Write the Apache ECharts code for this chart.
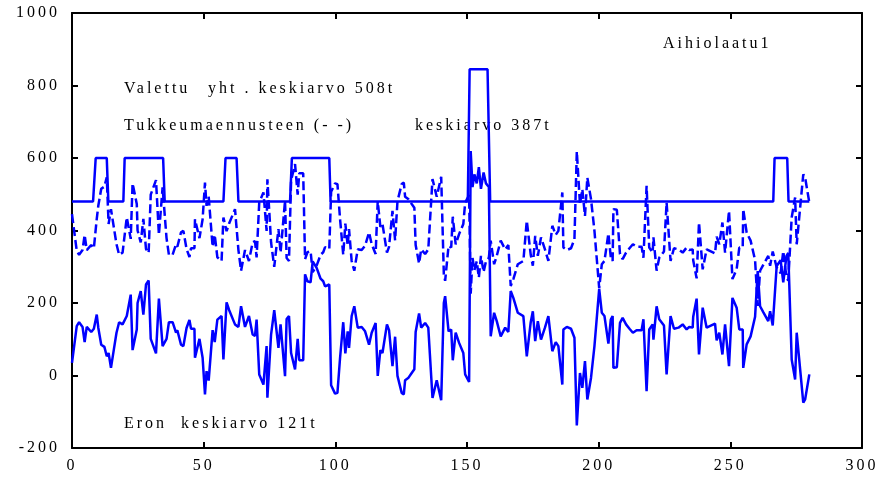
<!DOCTYPE html>
<html>
<head>
<meta charset="utf-8">
<script src="https://cdn.jsdelivr.net/npm/echarts@6/dist/echarts.min.js"></script>
<style>
    html, body { margin: 0; padding: 0; background: #fff; }
    #chart { width: 879px; height: 480px; }
</style>
</head>
<body>
<div id="chart"></div>
<script>
// spaced-out lettering like the original plot
var fillText0 = CanvasRenderingContext2D.prototype.fillText;
CanvasRenderingContext2D.prototype.fillText = function () {
    this.letterSpacing = '3px';
    return fillText0.apply(this, arguments);
};

var xTicks = [0, 50, 100, 150, 200, 250, 300];
var yTicks = [-200, 0, 200, 400, 600, 800, 1000];

// valettu (cast) - step line
var valettuX = [0, 8, 9, 13.2, 13.8, 19.5, 20, 34.6, 35.2, 57.5, 58.3, 62.5, 63.2, 82.8, 83.5, 97.7, 98.2,
    150.3, 151, 157.8, 158.8, 266.3, 266.8, 271.6, 272.1, 280];
var valettuY = [480, 480, 600, 600, 480, 480, 600, 600, 480, 480, 600, 600, 480, 480, 600, 600, 480,
    480, 845, 845, 480, 480, 600, 600, 480, 480];

// x positions shared by the difference and the prediction lines
var eroX = [0, 1.8, 2.7, 4.0, 4.8, 5.6, 7.3, 8.3, 9.4, 10.0,
    11.1, 12.3, 13.2, 13.9, 14.8, 15.9, 16.9, 17.9, 19.2, 20.8,
    22.3, 23.0, 24.6, 24.9, 26.1, 27.1, 28.1, 29.1, 29.9, 31.9,
    32.4, 33.0, 34.4, 35.9, 36.8, 38.2, 39.5, 40.0, 41.4, 42.3,
    43.5, 44.6, 45.2, 46.5, 46.7, 48.4, 49.6, 50.5, 51.1, 51.9,
    53.4, 54.2, 55.2, 56.8, 57.5, 58.7, 59.7, 61.9, 63.2, 64.2,
    65.7, 67.2, 68.6, 69.5, 70.1, 71.1, 72.7, 73.9, 74.2, 75.6,
    76.8, 78.4, 79.2, 80.9, 81.5, 82.4, 83.2, 84.7, 85.7, 86.3,
    87.8, 88.5, 89.4, 90.6, 91.4, 92.9, 94.4, 95.4, 96.1, 97.7,
    98.4, 99.9, 100.8, 101.8, 103.0, 103.8, 104.7, 105.2, 106.2, 107.2,
    108.5, 110.0, 111.3, 112.8, 113.8, 115.3, 116.1, 117.1, 117.9, 119.6,
    120.4, 121.7, 122.7, 123.6, 125.2, 126.0, 126.5, 127.8, 129.0, 130.0,
    130.5, 131.8, 132.6, 134.1, 135.3, 136.9, 138.5, 140.2, 141.2, 141.7,
    143.0, 144.0, 144.6, 145.7, 147.0, 148.6, 149.3, 150.8, 151.4, 152.1,
    152.8, 153.7, 154.5, 155.3, 156.3, 157.2, 158.3, 159.0, 160.3, 161.3,
    162.8, 164.5, 165.7, 166.6, 167.6, 169.3, 171.4, 172.7, 174.2, 175.0,
    175.9, 176.9, 178.1, 179.6, 180.9, 182.4, 183.7, 184.7, 186.2, 186.6,
    187.9, 189.5, 190.8, 191.7, 192.9, 193.8, 194.8, 195.7, 197.1, 198.4,
    200.2, 201.2, 202.2, 203.7, 204.6, 205.3, 205.6, 206.9, 208.1, 209.1,
    210.4, 211.7, 213.0, 214.4, 216.3, 217.0, 218.2, 219.2, 220.5, 220.8,
    222.0, 223.0, 224.8, 225.8, 227.3, 228.6, 230.3, 231.9, 233.4, 234.4,
    235.7, 235.9, 237.2, 238.1, 239.5, 241.0, 244.2, 244.8, 245.8, 247.0,
    248.0, 249.5, 250.8, 252.4, 253.4, 254.7, 254.9, 256.2, 257.7, 259.4,
    260.4, 261.3, 262.5, 264.4, 265.1, 266.1, 267.6, 269.1, 270.1, 271.3,
    272.0, 273.3, 274.6, 275.2, 277.7, 278.4, 280.0];

// ero (difference)
var eroY = [35, 136, 147, 134, 92, 134, 120, 129, 168, 131,
    85, 79, 53, 62, 21, 72, 118, 147, 141, 164,
    223, 70, 127, 200, 233, 168, 251, 262, 101, 61,
    58, 212, 81, 101, 147, 147, 118, 125, 85, 81,
    131, 153, 129, 129, 49, 101, 49, -52, 12, -14,
    125, 92, 154, 164, 44, 202, 180, 141, 134, 191,
    134, 164, 113, 109, 154, 3, -25, 81, -61, 113,
    180, 76, 141, -2, 156, 164, 62, 17, 101, 42,
    42, 279, 260, 257, 315, 297, 267, 260, 246, 251,
    -27, -50, -48, 49, 147, 61, 122, 76, 164, 191,
    132, 134, 122, 85, 118, 145, -1, 70, 62, 141,
    125, 26, 107, -1, -48, -52, -13, -6, 7, 17,
    120, 171, 132, 145, 132, -62, -13, -68, 200, 219,
    122, 127, 42, 118, 90, 62, 3, -18, 619, 520,
    555, 530, 575, 515, 560, 530, 520, 108, 173, 150,
    108, 132, 120, 233, 214, 173, 164, 53, 147, 177,
    95, 150, 99, 132, 164, 67, 92, 81, -25, 127,
    134, 129, 104, -138, 7, -34, 40, -66, -6, 81,
    239, 173, 164, 88, 154, 164, 21, 23, 145, 159,
    141, 129, 118, 125, 125, 155, -43, 127, 141, 99,
    191, 155, 138, 3, 164, 129, 132, 141, 127, 134,
    132, 162, 212, 58, 187, 132, 143, 97, 118, 58,
    141, 26, 214, 187, 127, 127, 21, 86, 108, 162,
    288, 191, 175, 150, 177, 138, 302, 318, 257, 329,
    338, 44, -11, 118, -75, -66, 3];

// tukkeumaennuste (prediction), dashed
var tukkY = [445, 344, 333, 346, 388, 346, 360, 351, 432, 469,
    515, 521, 547, 418, 459, 408, 362, 333, 339, 436,
    377, 530, 473, 400, 367, 432, 349, 338, 499, 539,
    542, 388, 519, 379, 333, 333, 362, 355, 395, 399,
    349, 327, 351, 351, 431, 379, 431, 532, 468, 494,
    355, 388, 326, 316, 436, 398, 420, 459, 346, 289,
    346, 316, 367, 371, 326, 477, 505, 399, 541, 367,
    300, 404, 339, 482, 324, 316, 538, 583, 499, 558,
    558, 321, 340, 343, 285, 303, 333, 340, 354, 349,
    507, 530, 528, 431, 333, 419, 358, 404, 316, 289,
    348, 346, 358, 395, 362, 335, 481, 410, 418, 339,
    355, 454, 373, 481, 528, 532, 493, 486, 473, 463,
    360, 309, 348, 335, 348, 542, 493, 548, 280, 261,
    358, 353, 438, 362, 390, 418, 477, 498, 226, 325,
    290, 315, 270, 330, 285, 315, 325, 372, 307, 330,
    372, 348, 360, 247, 266, 307, 316, 427, 333, 303,
    385, 330, 381, 348, 316, 413, 388, 399, 505, 353,
    346, 351, 376, 618, 473, 514, 440, 546, 486, 399,
    241, 307, 316, 392, 326, 316, 459, 457, 335, 321,
    339, 351, 362, 355, 355, 325, 523, 353, 339, 381,
    289, 325, 342, 477, 316, 351, 348, 339, 353, 346,
    348, 318, 268, 422, 293, 348, 337, 383, 362, 422,
    339, 454, 266, 293, 353, 353, 459, 394, 372, 318,
    192, 289, 305, 330, 303, 342, 298, 282, 343, 271,
    262, 436, 491, 362, 555, 546, 477];

function pairs(xs, ys) {
    var out = [];
    for (var i = 0; i < xs.length; i++) out.push([xs[i], ys[i]]);
    return out;
}

var chart = echarts.init(document.getElementById('chart'), null, { renderer: 'canvas' });

var FONT = 'Liberation Serif';
var BLUE = '#0000ff';
var frame = { show: true, onZero: false, lineStyle: { color: '#000', width: 2 } };
var tickIn = { show: true, inside: true, length: 6, lineStyle: { color: '#000', width: 2 } };

var option = {
    animation: false,
    backgroundColor: '#fff',
    grid: { left: 72, right: 17, top: 13, bottom: 32 },
    xAxis: [{
        type: 'value', min: xTicks[0], max: xTicks[xTicks.length - 1], interval: 50,
        position: 'bottom',
        axisLine: frame, axisTick: tickIn, splitLine: { show: false },
        axisLabel: { color: '#000', fontFamily: FONT, fontSize: 16, margin: 10, formatter: function (v) { return String(v); } }
    }, {
        type: 'value', min: xTicks[0], max: xTicks[xTicks.length - 1], interval: 50,
        position: 'top',
        axisLine: frame, axisTick: tickIn, splitLine: { show: false },
        axisLabel: { show: false }
    }],
    yAxis: [{
        type: 'value', min: yTicks[0], max: yTicks[yTicks.length - 1], interval: 200,
        position: 'left',
        axisLine: frame, axisTick: tickIn, splitLine: { show: false },
        axisLabel: { color: '#000', fontFamily: FONT, fontSize: 16, margin: 12, formatter: function (v) { return String(v); } }
    }, {
        type: 'value', min: yTicks[0], max: yTicks[yTicks.length - 1], interval: 200,
        position: 'right',
        axisLine: frame, axisTick: tickIn, splitLine: { show: false },
        axisLabel: { show: false }
    }],
    series: [{
        name: 'Valettu',
        type: 'line',
        data: pairs(valettuX, valettuY),
        showSymbol: false,
        lineStyle: { color: BLUE, width: 2.5 }
    }, {
        name: 'Tukkeumaennuste',
        type: 'line',
        data: pairs(eroX, tukkY),
        showSymbol: false,
        lineStyle: { color: BLUE, width: 2.5, type: [9, 4] }
    }, {
        name: 'Ero',
        type: 'line',
        data: pairs(eroX, eroY),
        showSymbol: false,
        lineStyle: { color: BLUE, width: 2.5 }
    }],
    graphic: [
        { type: 'text', left: 663, top: 36, style: { text: 'Aihiolaatu1', font: '16px "Liberation Serif"', fill: '#000' } },
        { type: 'text', left: 124, top: 81, style: { text: 'Valettu', font: '16px "Liberation Serif"', fill: '#000' } },
        { type: 'text', left: 208, top: 81, style: { text: 'yht . keskiarvo 508t', font: '16px "Liberation Serif"', fill: '#000' } },
        { type: 'text', left: 124, top: 118, style: { text: 'Tukkeumaennusteen (- -)', font: '16px "Liberation Serif"', fill: '#000' } },
        { type: 'text', left: 415, top: 118, style: { text: 'keskiarvo 387t', font: '16px "Liberation Serif"', fill: '#000' } },
        { type: 'text', left: 124, top: 416, style: { text: 'Eron  keskiarvo 121t', font: '16px "Liberation Serif"', fill: '#000' } }
    ]
};

chart.setOption(option);
</script>
</body>
</html>
